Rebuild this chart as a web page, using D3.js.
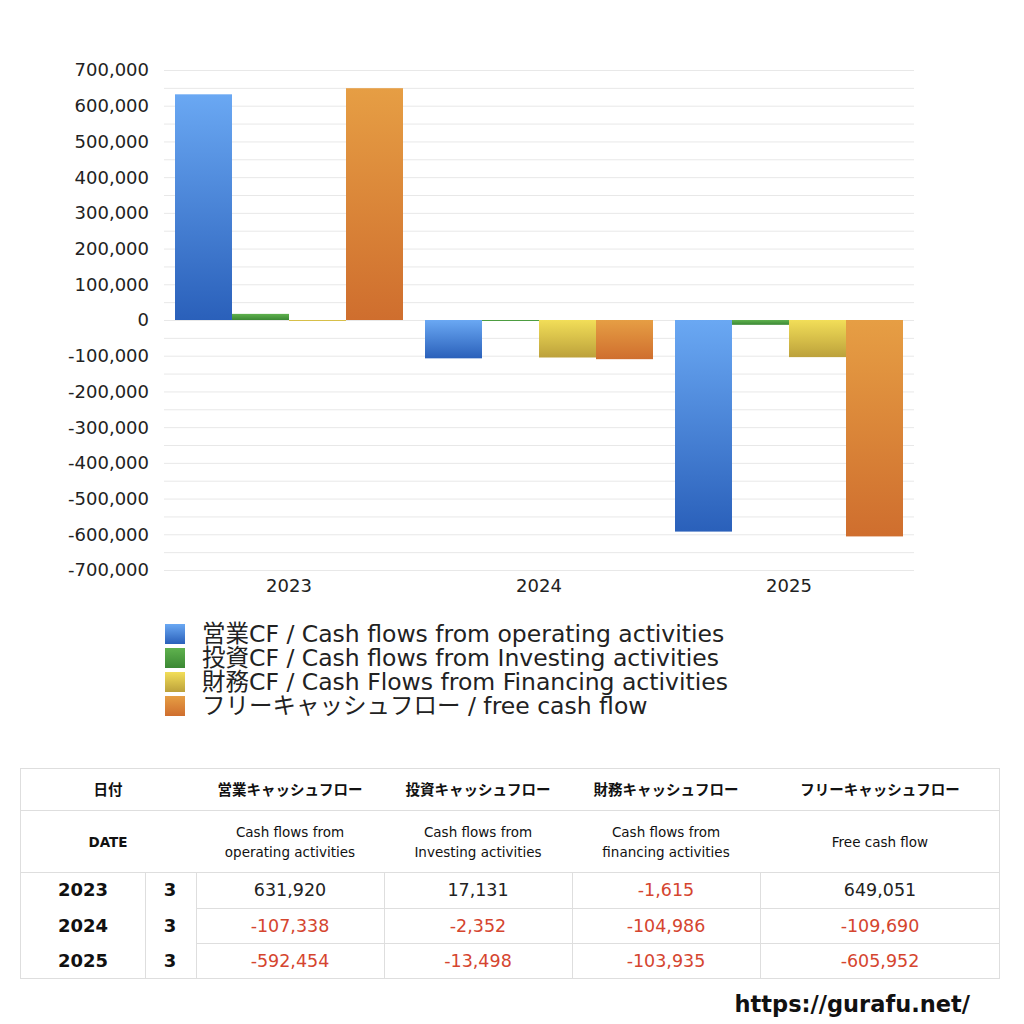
<!DOCTYPE html>
<html>
<head>
<meta charset="utf-8">
<script src="https://cdn.jsdelivr.net/npm/d3@7"></script>
<style>
  body { margin: 0; background: #fff; }
  svg { display: block; font-family: "DejaVu Sans", "Noto Sans CJK JP", sans-serif; }
</style>
</head>
<body>
<div id="chart"></div>
<script>
// data
const years = ["2023", "2024", "2025"];
const months = ["3", "3", "3"];
const seriesNames = [
  "営業CF / Cash flows from operating activities",
  "投資CF / Cash flows from Investing activities",
  "財務CF / Cash Flows from Financing activities",
  "フリーキャッシュフロー / free cash flow"
];
const operating = [631920, -107338, -592454];
const investing = [17131, -2352, -13498];
const financing = [-1615, -104986, -103935];
const freeCF = [649051, -109690, -605952];
const yTicks = [700000, 600000, 500000, 400000, 300000, 200000, 100000, 0,
  -100000, -200000, -300000, -400000, -500000, -600000, -700000];
const headJa = ["日付", "営業キャッシュフロー", "投資キャッシュフロー", "財務キャッシュフロー", "フリーキャッシュフロー"];
const headEn = ["DATE", ["Cash flows from", "operating activities"], ["Cash flows from", "Investing activities"],
  ["Cash flows from", "financing activities"], ["Free cash flow"]];

const series = [operating, investing, financing, freeCF];
const colors = [
  ["#6aa8f3", "#2a60ba"],
  ["#5fb24e", "#3b8834"],
  ["#f2de58", "#bca13b"],
  ["#e69e44", "#cf6e2e"]
];

// hyphen instead of unicode minus
const fmt = d3.formatLocale({ decimal: ".", thousands: ",", grouping: [3], currency: ["", ""], minus: "-" }).format(",");

const svg = d3.select("#chart").append("svg")
  .attr("width", 1024).attr("height", 1024);

const defs = svg.append("defs");
colors.forEach((c, i) => {
  const g = defs.append("linearGradient").attr("id", "grad" + i)
    .attr("x1", 0).attr("y1", 0).attr("x2", 0).attr("y2", 1);
  g.append("stop").attr("offset", "0%").attr("stop-color", c[0]);
  g.append("stop").attr("offset", "100%").attr("stop-color", c[1]);
});

// scales
const y = d3.scaleLinear().domain([-700000, 700000]).range([570, 70]);
const x0 = d3.scaleBand().domain(years).range([164, 914]).padding(0);
const x1 = d3.scaleBand().domain(d3.range(4)).range([11, x0.bandwidth() - 11]).padding(0);

// gridlines every 50,000
const grid = svg.append("g");
grid.selectAll("line").data(d3.range(-700000, 700001, 50000)).enter().append("line")
  .attr("x1", 164).attr("x2", 914)
  .attr("y1", d => y(d) + 0.5).attr("y2", d => y(d) + 0.5)
  .attr("stroke", "#e8e8e8").attr("stroke-width", 1);

// y labels
svg.append("g").selectAll("text").data(yTicks).enter().append("text")
  .attr("x", 149).attr("y", d => y(d)).attr("dy", "0.36em")
  .attr("text-anchor", "end").attr("font-size", 18).attr("fill", "#222")
  .text(d => fmt(d));

// bars
const groups = svg.append("g").selectAll("g").data(years).enter().append("g")
  .attr("transform", d => `translate(${x0(d)},0)`);
groups.selectAll("rect")
  .data((d, yi) => series.map((s, si) => ({ si, v: s[yi] })))
  .enter().append("rect")
  .attr("x", d => x1(d.si))
  .attr("width", x1.bandwidth())
  .attr("y", d => y(Math.max(0, d.v)))
  .attr("height", d => Math.max(1, Math.abs(y(d.v) - y(0))))
  .attr("fill", d => `url(#grad${d.si})`);

// x labels
svg.append("g").selectAll("text").data(years).enter().append("text")
  .attr("x", d => x0(d) + x0.bandwidth() / 2).attr("y", 586).attr("dy", "0.36em")
  .attr("text-anchor", "middle").attr("font-size", 18).attr("fill", "#222")
  .text(d => d);

// legend
const legend = svg.append("g").selectAll("g").data(seriesNames).enter().append("g")
  .attr("transform", (d, i) => `translate(165,${624 + i * 24})`);
legend.append("rect").attr("width", 20).attr("height", 20)
  .attr("fill", (d, i) => `url(#grad${i})`);
legend.append("text").attr("x", 37).attr("y", 10).attr("dy", "0.36em")
  .attr("font-size", 23.5).attr("fill", "#222").text(d => d);

// table
const tb = svg.append("g");
const colX = [20, 145, 196, 384, 572, 760, 1000];
const rowY = [768, 810, 872, 908, 943, 978];
const lineC = "#dedede";
tb.append("rect").attr("x", 20.5).attr("y", 768.5).attr("width", 979).attr("height", 210)
  .attr("fill", "none").attr("stroke", lineC);
tb.append("line").attr("x1", 20).attr("x2", 1000).attr("y1", 810.5).attr("y2", 810.5).attr("stroke", lineC);
tb.append("line").attr("x1", 20).attr("x2", 1000).attr("y1", 872.5).attr("y2", 872.5).attr("stroke", lineC);
[908, 943].forEach(yy => tb.append("line").attr("x1", 196).attr("x2", 1000)
  .attr("y1", yy + 0.5).attr("y2", yy + 0.5).attr("stroke", lineC));
[145, 196, 384, 572, 760].forEach(xx => tb.append("line").attr("x1", xx + 0.5).attr("x2", xx + 0.5)
  .attr("y1", 872).attr("y2", 978).attr("stroke", lineC));

const headCx = [108, 290, 478, 666, 880];
headJa.forEach((t, i) => tb.append("text").attr("x", headCx[i]).attr("y", 790).attr("dy", "0.36em")
  .attr("text-anchor", "middle").attr("font-size", 14.5).attr("font-weight", "bold").attr("fill", "#111").text(t));
headEn.forEach((t, i) => {
  const lines = Array.isArray(t) ? t : [t];
  lines.forEach((l, j) => tb.append("text").attr("x", headCx[i])
    .attr("y", 842 + (j - (lines.length - 1) / 2) * 20).attr("dy", "0.36em")
    .attr("text-anchor", "middle").attr("font-size", 13.5).attr("fill", "#111")
    .attr("font-weight", i === 0 ? "bold" : "normal").text(l));
});

years.forEach((yr, r) => {
  const cy = (rowY[r + 2] + rowY[r + 3]) / 2;
  tb.append("text").attr("x", 83).attr("y", cy).attr("dy", "0.36em").attr("text-anchor", "middle")
    .attr("font-size", 18).attr("font-weight", "bold").attr("fill", "#111").text(yr);
  tb.append("text").attr("x", 170).attr("y", cy).attr("dy", "0.36em").attr("text-anchor", "middle")
    .attr("font-size", 18).attr("font-weight", "bold").attr("fill", "#111").text(months[r]);
  series.forEach((s, si) => {
    const v = s[r];
    tb.append("text").attr("x", (colX[si + 2] + colX[si + 3]) / 2).attr("y", cy).attr("dy", "0.36em")
      .attr("text-anchor", "middle").attr("font-size", 17.5)
      .attr("fill", v < 0 ? "#d5452f" : "#222").text(fmt(v));
  });
});

svg.append("text").attr("x", 970).attr("y", 1004).attr("dy", "0.36em").attr("text-anchor", "end")
  .attr("font-size", 22.5).attr("font-weight", "bold").attr("fill", "#111").text("https://gurafu.net/");
</script>
</body>
</html>
